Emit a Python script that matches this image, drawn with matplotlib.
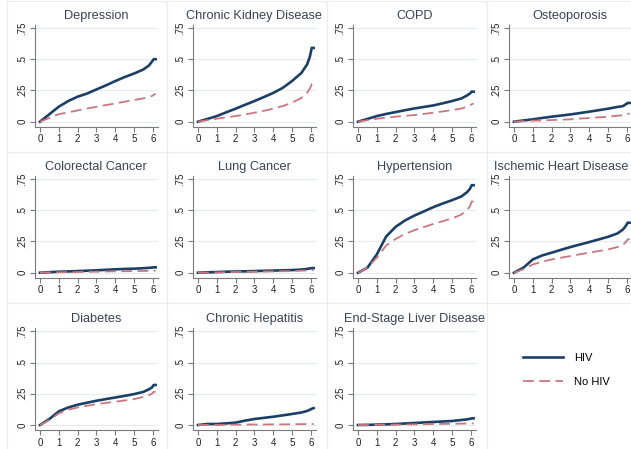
import numpy as np
import matplotlib
matplotlib.use('Agg')
from matplotlib import pyplot as plt
from matplotlib.patches import Rectangle

plt.rcParams['font.family'] = ['Liberation Sans', 'DejaVu Sans']

# years since baseline
years = [0, 0.5, 1, 1.5, 2, 2.5, 3, 3.5, 4, 4.5, 5, 5.5, 5.8, 5.95, 6.05, 6.15]

titles = ['Depression', 'Chronic Kidney Disease', 'COPD', 'Osteoporosis',
          'Colorectal Cancer', 'Lung Cancer', 'Hypertension', 'Ischemic Heart Disease',
          'Diabetes', 'Chronic Hepatitis', 'End-Stage Liver Disease']

depression_hiv = [0, .06, .12, .165, .20, .225, .258, .29, .325, .357, .385, .418, .45, .48, .50, .50]
depression_nohiv = [0, .03, .06, .075, .09, .105, .12, .133, .146, .16, .173, .187, .197, .205, .215, .223]
ckd_hiv = [0, .022, .045, .075, .104, .135, .165, .197, .23, .27, .325, .39, .457, .52, .59, .59]
ckd_nohiv = [0, .012, .024, .035, .045, .058, .072, .087, .104, .125, .152, .19, .23, .265, .30, .31]
copd_hiv = [0, .022, .045, .062, .077, .092, .106, .118, .13, .147, .165, .186, .21, .225, .24, .24]
copd_nohiv = [0, .012, .024, .032, .04, .047, .053, .062, .072, .082, .093, .105, .12, .13, .14, .146]
osteo_hiv = [0, .01, .019, .03, .04, .049, .058, .069, .08, .092, .104, .118, .125, .14, .15, .15]
osteo_nohiv = [0, .004, .008, .01, .013, .016, .019, .025, .03, .035, .04, .048, .052, .056, .062, .066]
colorectal_hiv = [0, .004, .008, .01, .013, .016, .019, .023, .027, .03, .032, .036, .039, .041, .043, .043]
colorectal_nohiv = [0, .002, .003, .004, .005, .007, .008, .01, .011, .012, .013, .014, .015, .016, .016, .016]
lung_hiv = [0, .003, .005, .008, .009, .011, .013, .015, .017, .019, .021, .025, .03, .034, .037, .037]
lung_nohiv = [0, .001, .002, .004, .005, .007, .008, .009, .010, .012, .013, .016, .018, .02, .021, .021]
htn_hiv = [0, .04, .146, .29, .367, .418, .457, .49, .524, .553, .58, .61, .644, .67, .70, .70]
htn_nohiv = [0, .04, .12, .218, .27, .31, .34, .365, .39, .412, .434, .465, .50, .53, .57, .57]
ihd_hiv = [0, .04, .106, .138, .16, .183, .205, .225, .245, .266, .287, .314, .346, .375, .40, .40]
ihd_nohiv = [0, .027, .066, .088, .106, .12, .133, .147, .16, .173, .186, .205, .225, .245, .266, .27]
diabetes_hiv = [0, .048, .109, .14, .162, .178, .194, .207, .22, .233, .247, .265, .286, .30, .32, .32]
diabetes_nohiv = [0, .04, .093, .122, .14, .154, .167, .177, .186, .196, .207, .225, .24, .25, .265, .265]
hepatitis_hiv = [0, .008, .008, .013, .019, .035, .048, .057, .066, .077, .088, .10, .112, .122, .13, .135]
hepatitis_nohiv = [0, 0, 0, .001, .003, .003, .004, .004, .005, .005, .006, .007, .007, .008, .008, .008]
esld_hiv = [0, .001, .003, .005, .008, .012, .016, .02, .024, .028, .032, .04, .045, .049, .053, .053]
esld_nohiv = [0, 0, .001, .002, .003, .004, .005, .006, .008, .009, .010, .011, .012, .012, .013, .013]

hiv_series = [depression_hiv, ckd_hiv, copd_hiv, osteo_hiv, colorectal_hiv, lung_hiv,
              htn_hiv, ihd_hiv, diabetes_hiv, hepatitis_hiv, esld_hiv]
nohiv_series = [depression_nohiv, ckd_nohiv, copd_nohiv, osteo_nohiv, colorectal_nohiv, lung_nohiv,
                htn_nohiv, ihd_nohiv, diabetes_nohiv, hepatitis_nohiv, esld_nohiv]

yticks = [0, .25, .5, .75]
ytick_labels = ['0', '.25', '.5', '.75']
xticks = [0, 1, 2, 3, 4, 5, 6]

hiv_color = '#1b3f66'
nohiv_color = '#c8787e'
axis_color = '#7a7a7a'

W, H = 631, 449
fig = plt.figure(figsize=(W / 100, H / 100), dpi=100)

col_left = [35, 193, 353, 509]
row_bottom = [126.7, 277.7, 430]
ax_w, ax_h = 122.5, 102

# faint panel frames
for r in range(3):
    for c in range(4):
        if r == 2 and c == 3:
            continue
        x0 = 7 + 160 * c
        y0 = 1 + 151 * r
        fig.patches.append(Rectangle((x0 / W, 1 - (y0 + 151) / H), 160 / W, 151 / H,
                                     transform=fig.transFigure, fill=False,
                                     edgecolor='#ececec', lw=0.8))

handles = None
for i, title in enumerate(titles):
    r, c = divmod(i, 4)
    ax = fig.add_axes([col_left[c] / W, 1 - row_bottom[r] / H, ax_w / W, ax_h / H])
    ax.set_xlim(-0.266, 6.25)
    ax.set_ylim(-0.04, 0.776)
    ax.grid(axis='y', color='#e4ecee', lw=0.8)
    ax.set_axisbelow(True)
    h1, = ax.plot(years, hiv_series[i], color=hiv_color, lw=1.9, label='HIV',
                  solid_joinstyle='miter')
    h2, = ax.plot(years, nohiv_series[i], color=nohiv_color, lw=1.3, ls=(0, (6, 3)),
                  label='No HIV')
    if handles is None:
        handles = [h1, h2]
    ax.set_yticks(yticks)
    ax.set_yticklabels(ytick_labels, rotation=90, va='center')
    ax.set_xticks(xticks)
    ax.tick_params(labelsize=7, colors='#222222', length=3.5, width=0.8, pad=2)
    ax.tick_params(axis='both', color=axis_color)
    for s in ['top', 'right']:
        ax.spines[s].set_visible(False)
    for s in ['left', 'bottom']:
        ax.spines[s].set_color(axis_color)
        ax.spines[s].set_linewidth(0.8)
    if c == 3:
        # right-hand column: keep the long title inside the figure
        ax.set_title(title, fontsize=9.2, color='#3a4454', pad=4,
                     x=(629 - col_left[c]) / ax_w if len(title) > 20 else 0.5,
                     ha='right' if len(title) > 20 else 'center')
    else:
        ax.set_title(title, fontsize=9.2, color='#3a4454', pad=4)

fig.legend(handles, ['HIV', 'No HIV'], loc='center left',
           bbox_to_anchor=(513 / W, 1 - 370 / H), frameon=False, fontsize=8,
           handlelength=3.6, handletextpad=1.0, labelspacing=1.3)

fig.savefig('out.png', dpi=100)
